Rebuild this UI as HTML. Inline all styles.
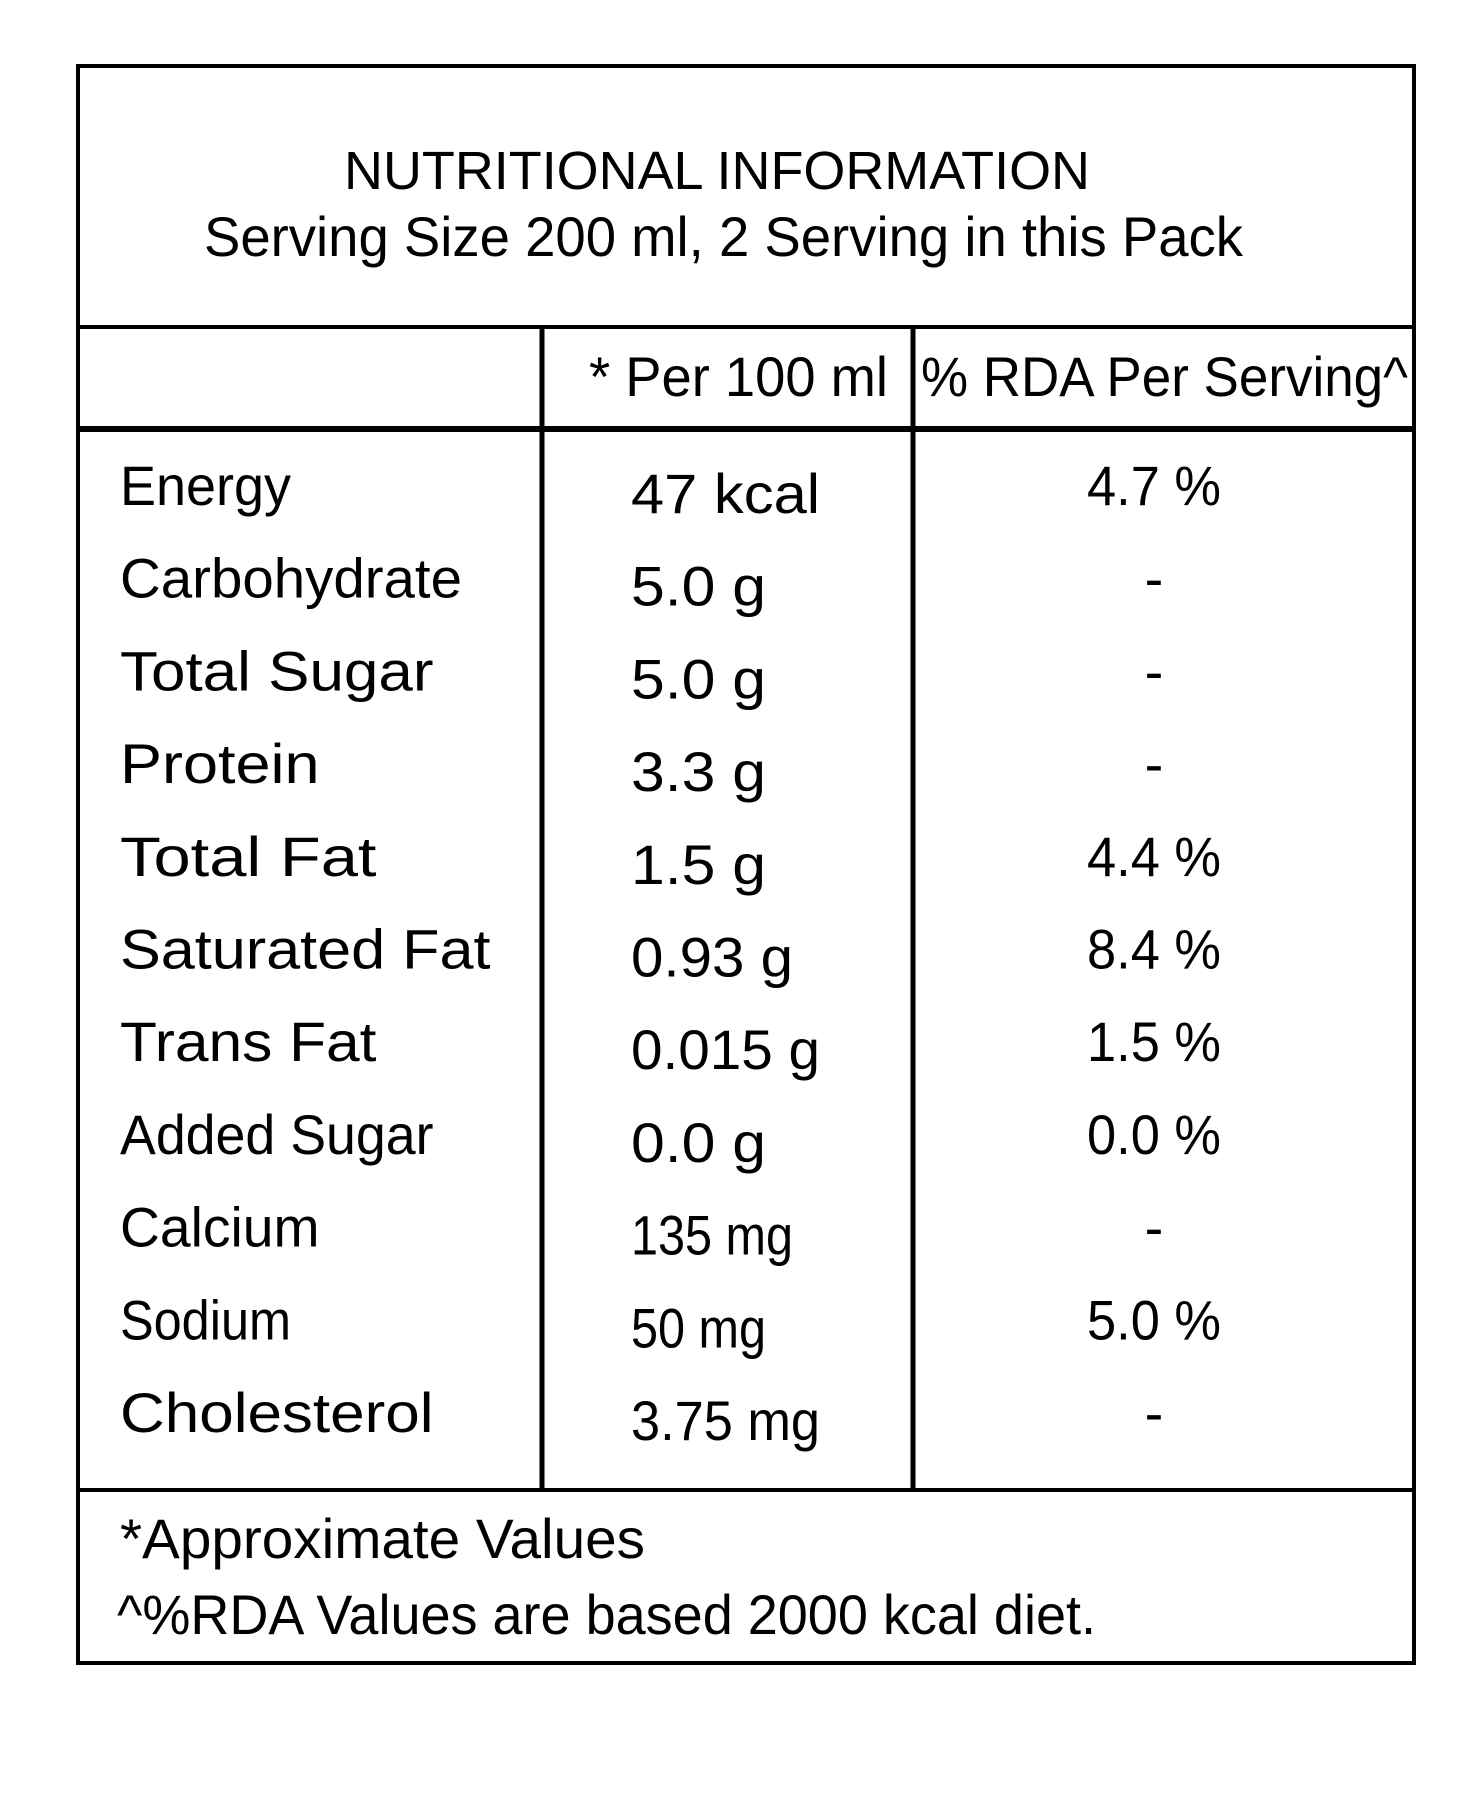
<!DOCTYPE html>
<html><head><meta charset="utf-8"><style>
html,body{margin:0;padding:0;background:#fff;}
svg{display:block;}
text{font-family:"Liberation Sans",sans-serif;fill:#000;}
</style></head><body>
<svg id="chart" width="1457" height="1816" viewBox="0 0 1457 1816" xmlns="http://www.w3.org/2000/svg">
  <rect x="78" y="66" width="1336" height="1597" fill="none" stroke="#000" stroke-width="4"/>
  <line x1="76" y1="327" x2="1416" y2="327" stroke="#000" stroke-width="4"/>
  <line x1="76" y1="429" x2="1416" y2="429" stroke="#000" stroke-width="6"/>
  <line x1="76" y1="1490" x2="1416" y2="1490" stroke="#000" stroke-width="4"/>
  <line x1="542" y1="327" x2="542" y2="1492" stroke="#000" stroke-width="5"/>
  <line x1="913" y1="327" x2="913" y2="1490" stroke="#000" stroke-width="5"/>
  <text x="344" y="189" font-size="54" textLength="746" lengthAdjust="spacingAndGlyphs">NUTRITIONAL INFORMATION</text>
  <text x="204" y="256" font-size="56" textLength="1039" lengthAdjust="spacingAndGlyphs">Serving Size 200 ml, 2 Serving in this Pack</text>
  <text x="589" y="396" font-size="56" textLength="299" lengthAdjust="spacingAndGlyphs">* Per 100 ml</text>
  <text x="921" y="396" font-size="56" textLength="487" lengthAdjust="spacingAndGlyphs">% RDA Per Serving^</text>
  <g id="rows"></g>
  <text x="120" y="1558" font-size="56" textLength="525" lengthAdjust="spacingAndGlyphs">*Approximate Values</text>
  <text x="117" y="1634" font-size="56" textLength="979" lengthAdjust="spacingAndGlyphs">^%RDA Values are based 2000 kcal diet.</text>
</svg>
<script>
const nutrients = ["Energy","Carbohydrate","Total Sugar","Protein","Total Fat","Saturated Fat","Trans Fat","Added Sugar","Calcium","Sodium","Cholesterol"];
const per100 = ["47 kcal","5.0 g","5.0 g","3.3 g","1.5 g","0.93 g","0.015 g","0.0 g","135 mg","50 mg","3.75 mg"];
const rda = ["4.7 %","-","-","-","4.4 %","8.4 %","1.5 %","0.0 %","-","5.0 %","-"];

const NS = "http://www.w3.org/2000/svg";
const g = document.getElementById("rows");
const rowY = i => 505 + i * 92.7;
const approxW = (s, k) => s.length * k;
function addText(txt, x, y, anchor, len) {
  const t = document.createElementNS(NS, "text");
  t.setAttribute("x", x);
  t.setAttribute("y", y);
  t.setAttribute("font-size", "56");
  t.setAttribute("text-anchor", anchor);
  if (len) { t.setAttribute("textLength", len); t.setAttribute("lengthAdjust", "spacingAndGlyphs"); }
  t.textContent = txt;
  g.appendChild(t);
  return t;
}
nutrients.forEach((n, i) => {
  const a = addText(n, 120, rowY(i), "start", approxW(n, 28.5));
  
  
  const b = addText(per100[i], 631, rowY(i) + 8, "start", approxW(per100[i], 27));
  
  
  const c = addText(rda[i], 1154, rowY(i), "middle", rda[i].length > 1 ? 134 : null);
  
  
});
</script>
</body></html>
